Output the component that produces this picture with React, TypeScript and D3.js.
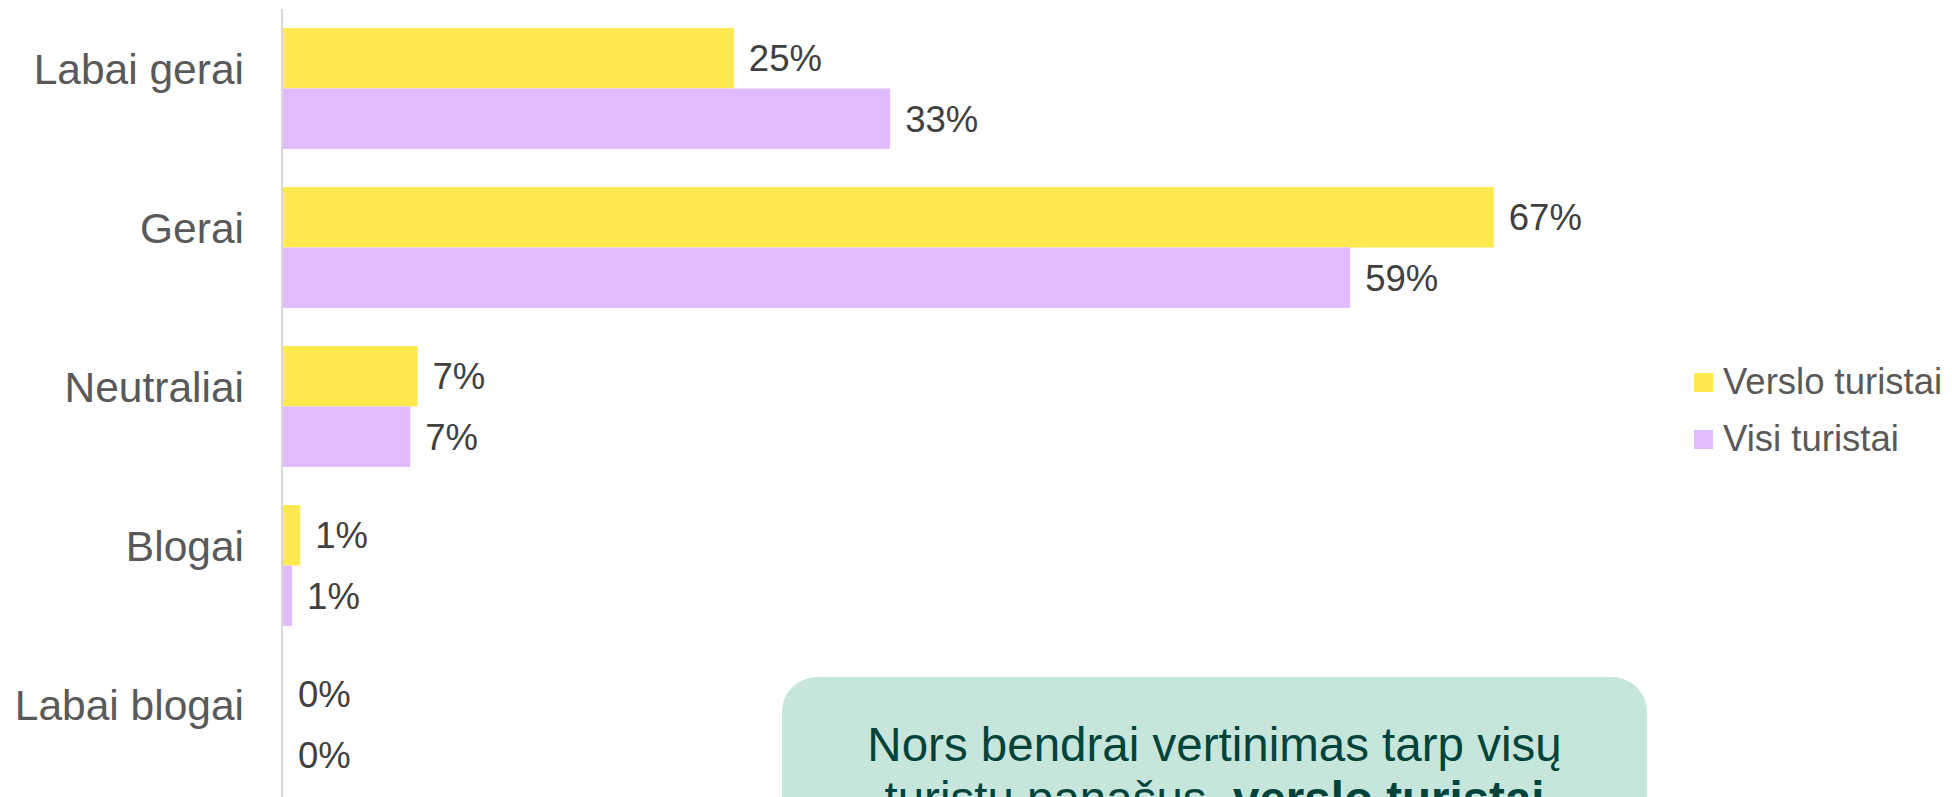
import React from "react";
import * as d3 from "d3";

const categories = ["Labai gerai", "Gerai", "Neutraliai", "Blogai", "Labai blogai"];
const seriesNames = ["Verslo turistai", "Visi turistai"];
const versloValues = [24.8, 66.6, 7.4, 0.95, 0];
const visiValues = [33.4, 58.7, 7.0, 0.5, 0];
const seriesColors = ["#FFE94F", "#E0BBFF"];
const noteLine1 = "Nors bendrai vertinimas tarp visų";
const noteLine2Plain = "turistų panašus, ";
const noteLine2Bold = "verslo turistai";

const FONT = "'Liberation Sans', Arial, sans-serif";

export default function App() {
  const width = 1952;
  const height = 797;
  const axisX = 283;

  const y = d3
    .scaleBand()
    .domain(categories)
    .range([9, 9 + 159 * categories.length])
    .paddingInner(0.24)
    .paddingOuter(0.12);

  const ySub = d3.scaleBand().domain(seriesNames).range([0, y.bandwidth()]);

  const x = d3.scaleLinear().domain([0, 100]).range([axisX, axisX + 1818]);

  const series = [versloValues, visiValues];

  return (
    <svg
      width={width}
      height={height}
      style={{ position: "fixed", left: 0, top: 0, background: "#fff" }}
      fontFamily={FONT}
    >
      {/* bars + value labels */}
      {categories.map((cat, i) => (
        <g key={cat} transform={`translate(0,${y(cat)})`}>
          {series.map((vals, s) => {
            const by = ySub(seriesNames[s])!;
            const bh = ySub.bandwidth();
            return (
              <g key={s}>
                <rect
                  x={x(0)}
                  y={by}
                  width={x(vals[i]) - x(0)}
                  height={bh}
                  fill={seriesColors[s]}
                />
                <text
                  x={x(vals[i]) + 15}
                  y={by + bh / 2 + 13}
                  fontSize={36.5}
                  fill="#404040"
                >
                  {Math.round(vals[i])}%
                </text>
              </g>
            );
          })}
        </g>
      ))}

      {/* category axis */}
      <line x1={282} x2={282} y1={9} y2={height} stroke="#D9D9D9" strokeWidth={2} />
      {categories.map((cat) => (
        <text
          key={cat}
          x={244}
          y={y(cat)! + y.bandwidth() / 2 - 5}
          textAnchor="end"
          fontSize={42.5}
          fill="#595959"
        >
          {cat}
        </text>
      ))}

      {/* legend */}
      {seriesNames.map((name, s) => (
        <g key={name} transform={`translate(1694,${373 + s * 57})`}>
          <rect width={19} height={19} fill={seriesColors[s]} />
          <text x={29} y={20.5} fontSize={36.5} fill="#595959">
            {name}
          </text>
        </g>
      ))}

      {/* note box (cut off by the bottom edge, as in the source) */}
      <rect x={782} y={677} width={865} height={260} rx={35} ry={35} fill="#C6E6DC" />
      <text x={1214.5} y={761} textAnchor="middle" fontSize={47.5} fill="#00433A">
        {noteLine1}
      </text>
      <text x={1214.5} y={815} textAnchor="middle" fontSize={47.5} fill="#00433A">
        <tspan>{noteLine2Plain}</tspan>
        <tspan fontWeight="bold">{noteLine2Bold}</tspan>
      </text>
    </svg>
  );
}
